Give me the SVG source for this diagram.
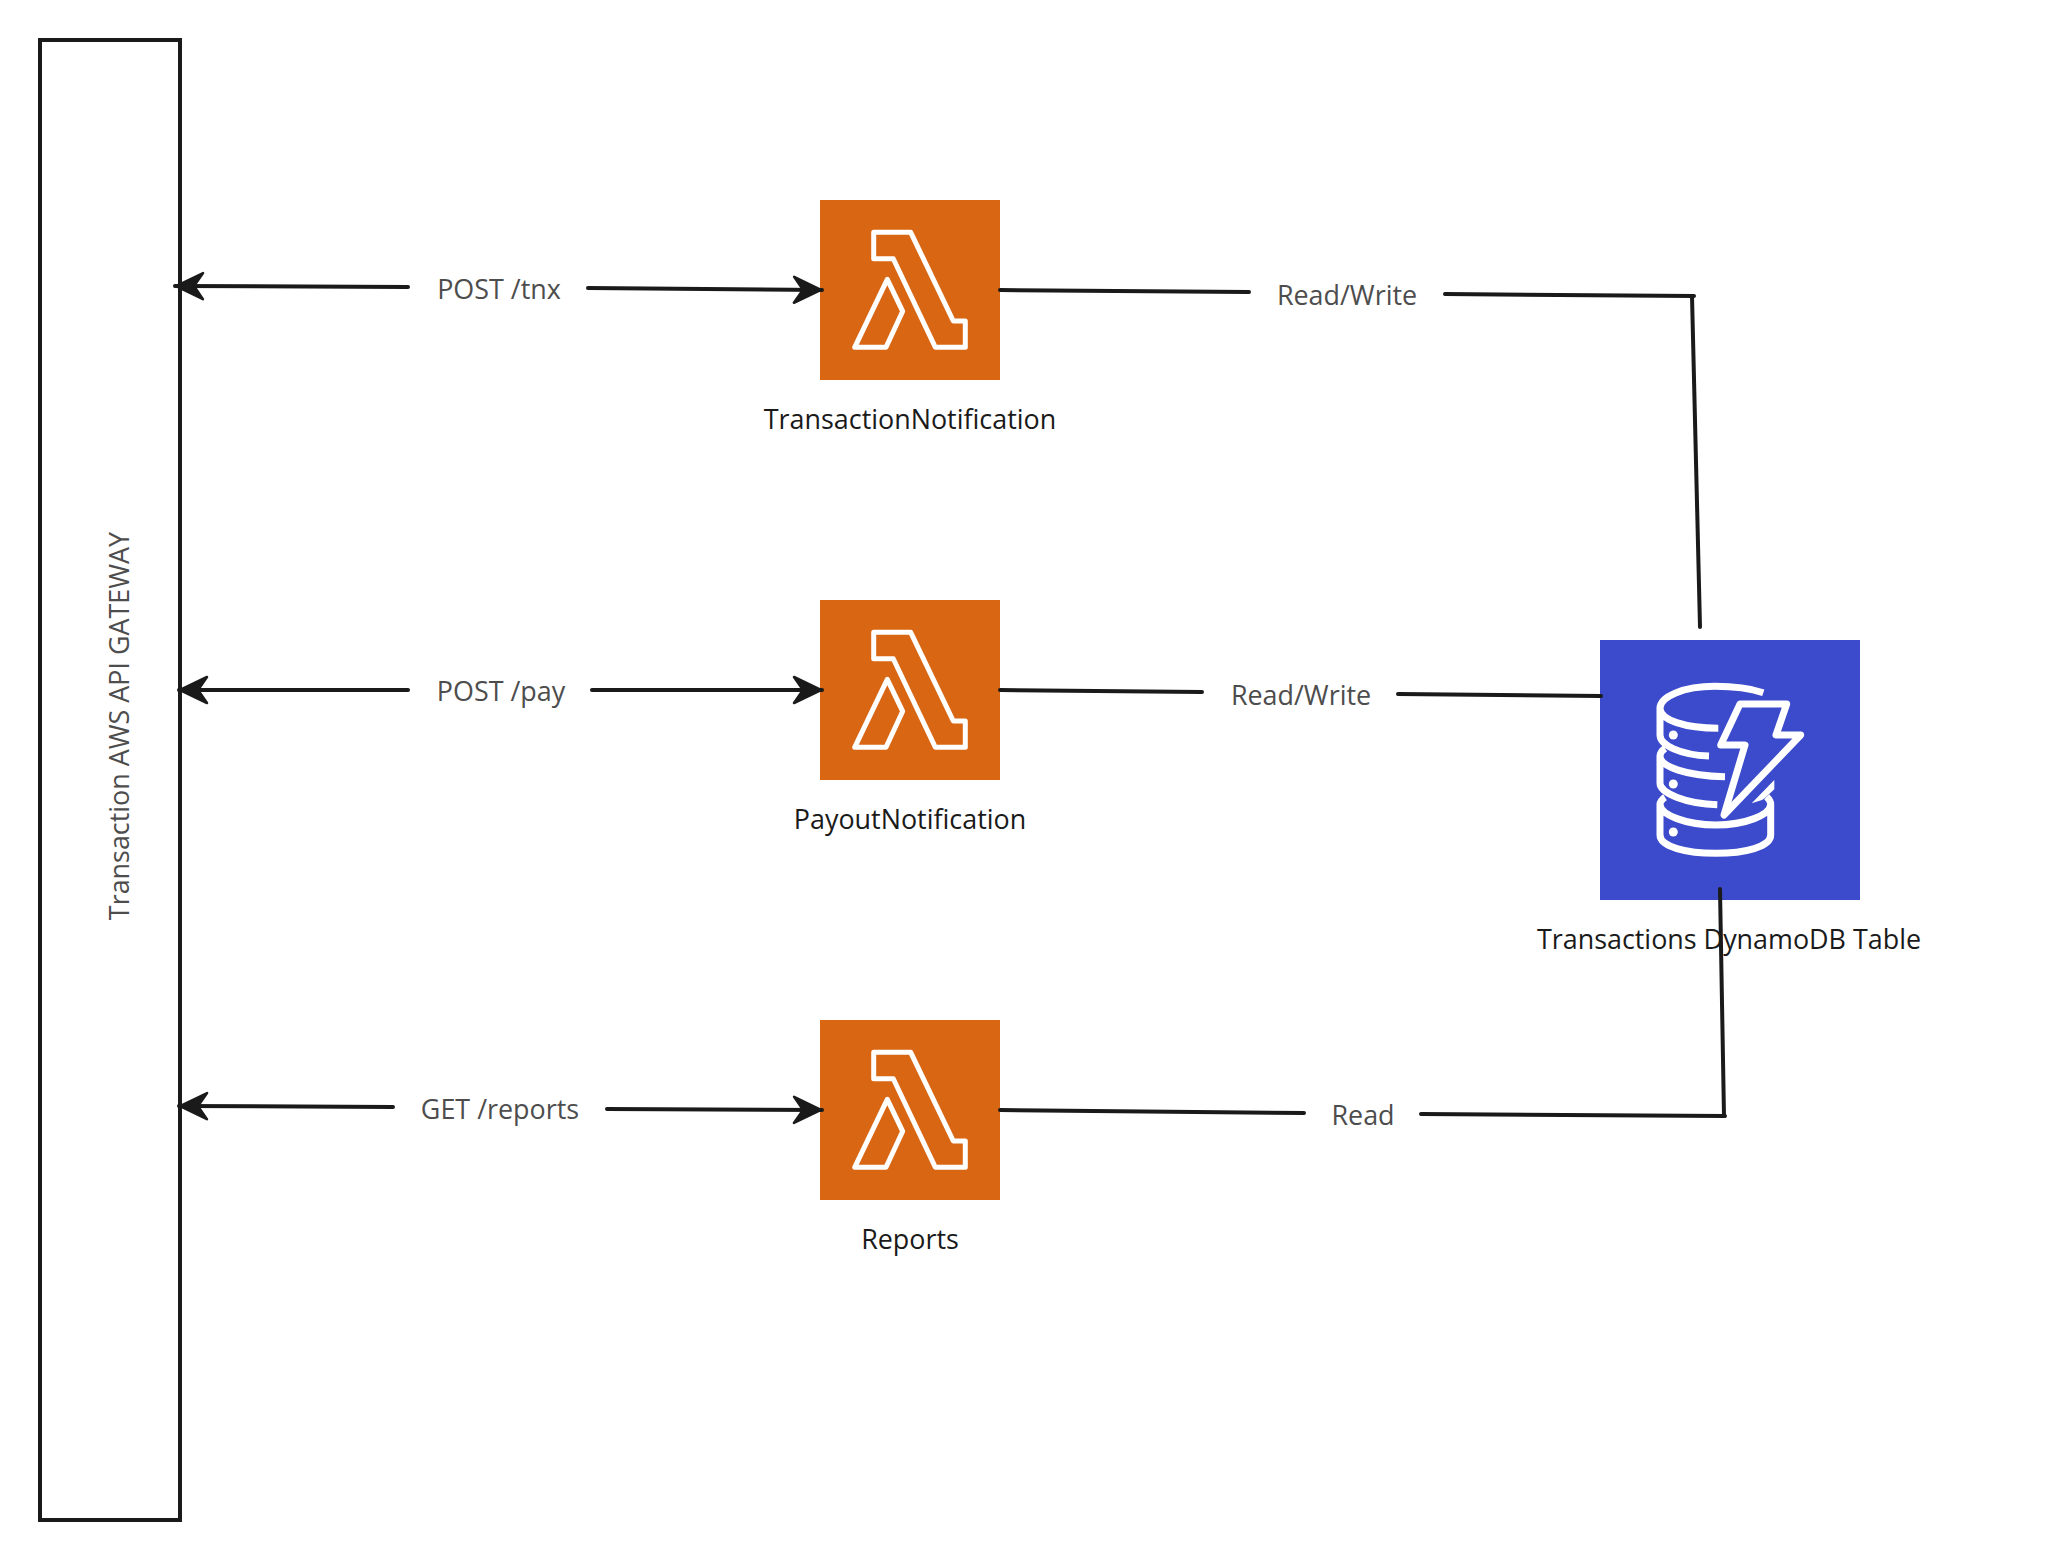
<svg xmlns="http://www.w3.org/2000/svg" width="2070" height="1560" viewBox="0 0 2070 1560">
<style>
.conn{fill:none;stroke:#1a1a1a;stroke-width:4;stroke-linecap:round}
.lbl{font-family:"Open Sans","Noto Sans",sans-serif;font-size:26.900px;fill:#1a1a1a;text-anchor:middle}
.edge{font-family:"Open Sans","Noto Sans",sans-serif;font-size:26.900px;fill:#4d4d4d;text-anchor:middle}
.ic{fill:none;stroke:#fff;stroke-width:5;stroke-linejoin:round}
.db{fill:none;stroke:#fff;stroke-width:7;stroke-linejoin:round}
</style>
<defs>
<marker id="arrow" markerUnits="userSpaceOnUse" markerWidth="34" markerHeight="34" refX="31" refY="17" orient="auto">
<path d="M3 4L30 17L3 30L12 17Z" fill="#1a1a1a" stroke="#1a1a1a" stroke-width="2.500" stroke-linejoin="round"/>
</marker>
<g id="lam"><rect width="180" height="180" fill="#d96613"/>
<path class="ic" d="M53.700 32.300H90.700L133.300 121H145.300V147.300H115.300L73.300 58.700H53.700Z"/>
<path class="ic" d="M67.300 79.300L82.700 111.300L66 147.300H34.700Z"/></g>
</defs>
<rect width="2070" height="1560" fill="#fff"/>
<g id="gateway"><rect x="40" y="40" width="140" height="1480" fill="#fff" stroke="#1a1a1a" stroke-width="4"/>
<text class="edge" transform="translate(129 726) rotate(-90)">Transaction AWS API GATEWAY</text></g>
<g id="transaction-notification"><use href="#lam" x="820" y="200"/><text class="lbl" x="910" y="428.500">TransactionNotification</text></g>
<g id="payout-notification"><use href="#lam" x="820" y="600"/><text class="lbl" x="910" y="828.500">PayoutNotification</text></g>
<g id="reports"><use href="#lam" x="820" y="1020"/><text class="lbl" x="910" y="1248.500">Reports</text></g>
<g id="dynamodb"><rect x="1600" y="640" width="260" height="260" fill="#3c4bcc"/>
<path class="db" d="M1763.300 692.700C1750 688.300 1733.300 686.300 1715 686.300C1683.300 686.300 1660 696.700 1660 708.300C1660 720 1685 728.300 1718.300 728.300M1660 708.300V735C1660 745 1680 755 1709 756M1665 748.300C1661.700 750.700 1660 753.300 1660 756C1660 766.700 1686.700 776 1725 776.700M1660 756V783.300C1660 793.300 1686.700 804 1717.300 804.700M1665 797.300C1661.700 799.300 1660 802.700 1660 804C1660 815 1686.700 825 1715.700 825C1745 825 1770.700 815 1770.700 804M1660 804V835C1660 846.700 1686.700 853.300 1715.700 853.300C1745 853.300 1770.700 846.700 1770.700 835V804C1770.700 801.700 1768.300 798.300 1766.700 796.700"/>
<path class="db" d="M1740 704H1786.700L1776 735H1800.700L1724 815L1745 745H1720.700Z"/>
<path d="M1751.700 803.300L1774.300 780V789.300L1765 798L1762 800Z" fill="#fff"/>
<circle cx="1673.300" cy="735" r="4.500" fill="#fff"/><circle cx="1673.300" cy="784" r="4.500" fill="#fff"/><circle cx="1673.300" cy="832" r="4.500" fill="#fff"/>
<text class="lbl" x="1729" y="948.500">Transactions DynamoDB Table</text></g>
<g id="connectors">
<path class="conn" marker-end="url(#arrow)" d="M408 287L175 286"/>
<path class="conn" marker-end="url(#arrow)" d="M588 288L822 290"/>
<path class="conn" d="M1000 290L1249 292"/>
<path class="conn" d="M1445 294L1694 296"/>
<path class="conn" d="M1692 296L1700 627"/>
<path class="conn" marker-end="url(#arrow)" d="M408 690L179 690"/>
<path class="conn" marker-end="url(#arrow)" d="M592 690L822 690"/>
<path class="conn" d="M1000 690L1202 692"/>
<path class="conn" d="M1398 694L1601 696"/>
<path class="conn" marker-end="url(#arrow)" d="M393 1107L179 1106"/>
<path class="conn" marker-end="url(#arrow)" d="M607 1109L822 1110"/>
<path class="conn" d="M1000 1110L1304 1113"/>
<path class="conn" d="M1421 1114L1725 1116"/>
<path class="conn" d="M1724 1116L1720 889"/>
</g>
<g id="edge-labels">
<text class="edge" x="499" y="298.500">POST /tnx</text>
<text class="edge" x="1347" y="304.500">Read/Write</text>
<text class="edge" x="501" y="700.500">POST /pay</text>
<text class="edge" x="1301" y="704.500">Read/Write</text>
<text class="edge" x="500" y="1118.500">GET /reports</text>
<text class="edge" x="1363" y="1124.500">Read</text>
</g>
</svg>
